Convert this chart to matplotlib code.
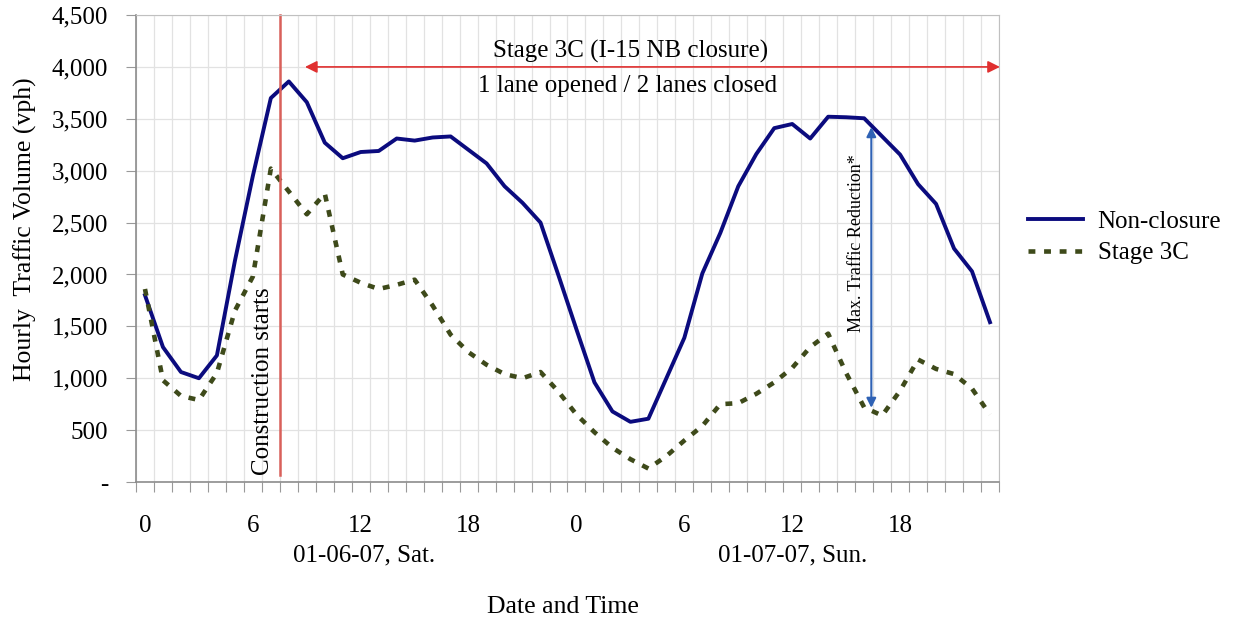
import numpy as np
import matplotlib.pyplot as plt
from matplotlib.ticker import FixedLocator

plt.rcParams['font.family'] = ['Liberation Serif', 'DejaVu Serif']

# hours over two days (01-06-07 Sat. and 01-07-07 Sun.)
hours = np.arange(48)
hour_labels = ['0', '6', '12', '18', '0', '6', '12', '18']
label_pos = [0, 6, 12, 18, 24, 30, 36, 42]

non_closure = [1800, 1300, 1060, 1000, 1220, 2130, 2950, 3700, 3860, 3660,
               3270, 3120, 3180, 3190, 3310, 3290, 3320, 3330, 3200, 3070,
               2850, 2690, 2500, 1990, 1470, 960, 680, 580, 610, 1000,
               1390, 2010, 2400, 2850, 3160, 3410, 3450, 3310, 3520, 3515,
               3505, 3330, 3155, 2870, 2680, 2250, 2030, 1540]

stage_3c = [1860, 980, 830, 790, 1050, 1650, 1980, 3020, 2800, 2580,
            2780, 2000, 1920, 1860, 1900, 1950, 1700, 1420, 1250, 1130,
            1040, 1000, 1060, 870, 650, 480, 330, 220, 130, 250,
            400, 540, 750, 760, 850, 960, 1100, 1300, 1430, 1050,
            720, 640, 880, 1180, 1090, 1040, 900, 650]

yticks = [0, 500, 1000, 1500, 2000, 2500, 3000, 3500, 4000, 4500]
ytick_labels = ['-', '500', '1,000', '1,500', '2,000', '2,500', '3,000', '3,500', '4,000', '4,500']

fig = plt.figure(figsize=(12.33, 6.21), dpi=100)
ax = fig.add_axes([0.1103, 0.2238, 0.6999, 0.752])

ax.plot(hours, non_closure, color='#0b0b7e', lw=2.8, label='Non-closure')
ax.plot(hours, stage_3c, color='#3e4a1a', lw=3.3, linestyle=(0, (1.5, 1.9)), label='Stage 3C')

ax.set_xlim(-0.5, 47.5)
ax.set_ylim(0, 4500)

# category boundaries -> gridlines and ticks
ax.xaxis.set_major_locator(FixedLocator(np.arange(-0.5, 48, 1)))
ax.set_xticklabels([])
ax.xaxis.set_minor_locator(FixedLocator(label_pos))
ax.set_xticklabels(hour_labels, minor=True)
ax.tick_params(axis='x', which='major', length=7, color='#999999', direction='out')
ax.tick_params(axis='x', which='minor', length=0, pad=24, labelsize=18)

ax.set_yticks(yticks)
ax.set_yticklabels(ytick_labels)
ax.tick_params(axis='y', length=7, color='#999999', pad=13, labelsize=18)

ax.grid(True, which='major', color='#e2e2e2', lw=0.9)
ax.set_axisbelow(True)
for s in ['left', 'bottom']:
    ax.spines[s].set_color('#8c8c8c')
    ax.spines[s].set_linewidth(1.2)
for s in ['top', 'right']:
    ax.spines[s].set_color('#c0c0c0')

# construction start marker
ax.plot([7.5, 7.5], [70, 4500], color='#d9605a', lw=1.8, clip_on=False)
ax.text(6.55, 970, 'Construction starts', rotation=90, ha='center', va='center', fontsize=18)

# stage 3C span
ax.annotate('', xy=(8.9, 4000), xytext=(47.55, 4000),
            arrowprops=dict(arrowstyle='<|-|>', color='#e03030', lw=1.2,
                            mutation_scale=18, shrinkA=0, shrinkB=0),
            annotation_clip=False)
ax.text(27.0, 4150, 'Stage 3C (I-15 NB closure)', ha='center', va='center', fontsize=18)
ax.text(26.85, 3815, '1 lane opened / 2 lanes closed', ha='center', va='center', fontsize=18)

# max reduction
ax.annotate('', xy=(40.4, 3420), xytext=(40.4, 715),
            arrowprops=dict(arrowstyle='<|-|>', color='#2f62b5', lw=1.5,
                            mutation_scale=14, shrinkA=0, shrinkB=0))
ax.text(39.6, 2300, 'Max. Traffic Reduction*', rotation=90, ha='center', va='center', fontsize=13)

# date labels
ax.text(12.2, -710, '01-06-07, Sat.', ha='center', va='center', fontsize=18)
ax.text(36.0, -710, '01-07-07, Sun.', ha='center', va='center', fontsize=18)
fig.text(563 / 1233, 1 - 607 / 621, 'Date and Time', ha='center', va='center', fontsize=18.5)
fig.text(25 / 1233, 1 - 229 / 621, 'Hourly  Traffic Volume (vph)', rotation=90,
         ha='center', va='center', fontsize=18.5)

fig.legend(loc='upper left', bbox_to_anchor=(1005 / 1233, 1 - 188 / 621), frameon=False,
           fontsize=18, handlelength=2.2, handletextpad=0.6, labelspacing=0.35)

fig.savefig('out.png', dpi=100)
